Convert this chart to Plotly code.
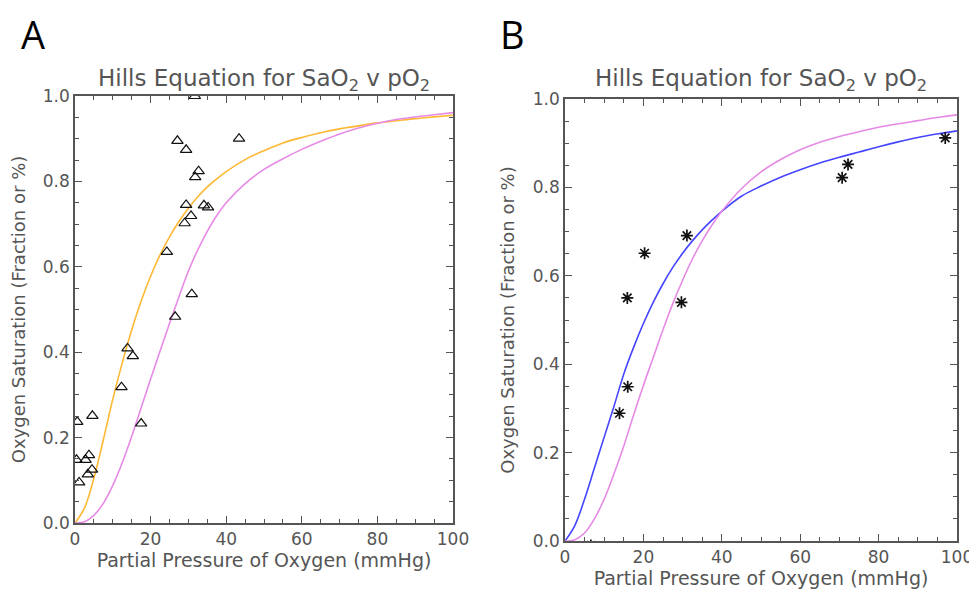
import plotly.graph_objects as go

# ---------------- Panel A data ----------------
a_tri_x = [27.1, 29.4, 43.4, 32.7, 31.8, 29.4, 34.1, 35.2, 30.7, 29.0, 24.3, 30.9, 26.5,
           31.7, 13.9, 15.3, 12.3, 4.6, 0.6, 17.5, 0.4, 2.8, 3.7, 3.4, 4.5, 1.1]
a_tri_y = [0.895, 0.874, 0.900, 0.824, 0.810, 0.745, 0.744, 0.739, 0.719, 0.702, 0.635, 0.536, 0.483,
           1.0, 0.409, 0.391, 0.318, 0.251, 0.237, 0.233, 0.148, 0.148, 0.159, 0.114, 0.125, 0.095]

curve_x = [0, 2.5, 5, 7.5, 10, 12.5, 15, 17.5, 20, 22.5, 25, 27.5, 30, 32.5, 35, 37.5, 40,
           45, 50, 55, 60, 65, 70, 75, 80, 85, 90, 95, 100]

a_orange_y = [0, 0.035, 0.105, 0.195, 0.29, 0.375, 0.452, 0.52, 0.578, 0.628, 0.670, 0.706, 0.737,
              0.764, 0.787, 0.806, 0.823, 0.851, 0.872, 0.890, 0.903, 0.914, 0.923, 0.930, 0.937,
              0.942, 0.947, 0.951, 0.955]
a_pink_y = [0, 0.003, 0.018, 0.046, 0.088, 0.141, 0.203, 0.270, 0.337, 0.403, 0.467, 0.530, 0.590,
            0.640, 0.683, 0.720, 0.750, 0.795, 0.828, 0.853, 0.875, 0.894, 0.911, 0.925, 0.936,
            0.945, 0.951, 0.956, 0.961]

# ---------------- Panel B data ----------------
b_star_x = [97.0, 72.2, 70.7, 31.1, 20.3, 15.9, 29.7, 16.0, 13.9, 6.6]
b_star_y = [0.912, 0.852, 0.822, 0.691, 0.651, 0.550, 0.540, 0.349, 0.289, -0.01]

b_blue_y = [0, 0.035, 0.095, 0.165, 0.235, 0.305, 0.378, 0.438, 0.492, 0.540, 0.582, 0.619, 0.651,
            0.679, 0.704, 0.726, 0.746, 0.780, 0.803, 0.823, 0.840, 0.855, 0.868, 0.880, 0.892,
            0.903, 0.913, 0.921, 0.928]
b_pink_y = [0, 0.003, 0.018, 0.05, 0.095, 0.152, 0.215, 0.285, 0.352, 0.415, 0.478, 0.537, 0.59,
            0.638, 0.679, 0.715, 0.746, 0.797, 0.835, 0.863, 0.885, 0.902, 0.915, 0.926, 0.936,
            0.944, 0.951, 0.958, 0.964]

x_ticks = [0, 20, 40, 60, 80, 100]
y_ticks = [0.0, 0.2, 0.4, 0.6, 0.8, 1.0]

title_text = "Hills Equation for SaO<sub>2</sub> v pO<sub>2</sub>"
x_title = "Partial Pressure of Oxygen (mmHg)"
y_title = "Oxygen Saturation (Fraction or %)"

AX = "#555555"
FONT = "DejaVu Sans"
ORANGE = "#FFB833"
PINK = "#E68AE6"
BLUE = "#4545FF"

W, H = 977, 595
OFF = 8  # page body margin offset compensation


def px(x):
    return (x - OFF) / W


def py(y):
    return 1 - (y - OFF) / H


fig = go.Figure()

fig.add_trace(go.Scatter(x=curve_x, y=a_orange_y, mode="lines", line=dict(color=ORANGE, width=1.6, shape="spline"),
                         xaxis="x", yaxis="y", name="fit A1"))
fig.add_trace(go.Scatter(x=curve_x, y=a_pink_y, mode="lines", line=dict(color=PINK, width=1.6, shape="spline"),
                         xaxis="x", yaxis="y", name="fit A2"))
fig.add_trace(go.Scatter(x=a_tri_x, y=a_tri_y, mode="markers",
                         marker=dict(symbol="triangle-up-open", size=10, color="#111111", line=dict(width=1.2)),
                         xaxis="x", yaxis="y", name="data A"))

fig.add_trace(go.Scatter(x=curve_x, y=b_blue_y, mode="lines", line=dict(color=BLUE, width=1.6, shape="spline"),
                         xaxis="x2", yaxis="y2", name="fit B1"))
fig.add_trace(go.Scatter(x=curve_x, y=b_pink_y, mode="lines", line=dict(color=PINK, width=1.6, shape="spline"),
                         xaxis="x2", yaxis="y2", name="fit B2"))
fig.add_trace(go.Scatter(x=b_star_x, y=b_star_y, mode="markers",
                         marker=dict(symbol="asterisk-open", size=10, color="#111111", line=dict(width=1.7, color="#111111")),
                         xaxis="x2", yaxis="y2", name="data B"))


def xaxis(domain, anchor):
    return dict(domain=domain, anchor=anchor, range=[0, 100], tickvals=x_ticks, automargin=False,
                ticktext=[str(v) for v in x_ticks], ticks="inside", ticklen=7, tickwidth=1.2,
                tickcolor=AX, showline=True, linecolor=AX, linewidth=1.5, mirror="ticks",
                showgrid=False, zeroline=False,
                minor=dict(dtick=5, ticks="inside", ticklen=4, tickcolor=AX, tickwidth=1.2, showgrid=False),
                tickfont=dict(family=FONT, size=17, color=AX),
                title=dict(text=x_title, font=dict(family=FONT, size=19, color=AX), standoff=2))


def yaxis(domain, anchor):
    return dict(domain=domain, anchor=anchor, range=[0, 1], tickvals=y_ticks, automargin=False,
                ticktext=["%.1f" % v for v in y_ticks], ticks="inside", ticklen=7, tickwidth=1.2,
                tickcolor=AX, showline=True, linecolor=AX, linewidth=1.5, mirror="ticks",
                showgrid=False, zeroline=False,
                minor=dict(dtick=0.05, ticks="inside", ticklen=4, tickcolor=AX, tickwidth=1.2, showgrid=False),
                tickfont=dict(family=FONT, size=17, color=AX),
                title=dict(text=y_title, font=dict(family=FONT, size=18, color=AX), standoff=14))


fig.update_layout(
    width=W, height=H, margin=dict(l=0, r=0, t=0, b=0, autoexpand=False),
    paper_bgcolor="white", plot_bgcolor="white", showlegend=False,
    xaxis=xaxis([px(75), px(453)], "y"),
    yaxis=yaxis([py(523), py(96)], "x"),
    xaxis2=xaxis([px(565), px(957)], "y2"),
    yaxis2=yaxis([py(541), py(99)], "x2"),
    annotations=[
        dict(text=title_text, x=px(264), y=py(80), xref="paper", yref="paper", showarrow=False,
             xanchor="center", yanchor="middle", font=dict(family=FONT, size=23, color=AX)),
        dict(text=title_text, x=px(761), y=py(80), xref="paper", yref="paper", showarrow=False,
             xanchor="center", yanchor="middle", font=dict(family=FONT, size=23, color=AX)),
        dict(text="A", x=px(33), y=py(34), xref="paper", yref="paper", showarrow=False,
             xanchor="center", yanchor="middle", font=dict(family="Open Sans", size=38, color="black")),
        dict(text="B", x=px(512), y=py(34), xref="paper", yref="paper", showarrow=False,
             xanchor="center", yanchor="middle", font=dict(family="Open Sans", size=38, color="black")),
    ],
)

fig.write_html("out.html")
